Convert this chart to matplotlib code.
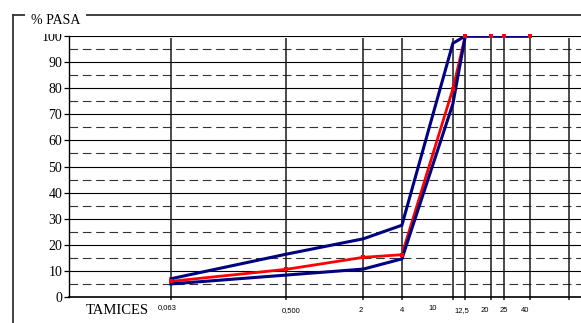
import matplotlib
matplotlib.use('Agg')
import matplotlib.pyplot as plt
from matplotlib.lines import Line2D

# sieve openings (mm) and % passing
tamices = [0.063, 0.5, 2, 4, 10, 12.5, 20, 25, 40]
tamiz_labels = ['0,063', '0,500', '2', '4', '10', '12,5', '20', '25', '40']
huso_inferior = [5, 8.4, 10.7, 14.6, 74, 100, 100, 100, 100]
huso_superior = [7, 16.4, 22.3, 27.5, 97.2, 100, 100, 100, 100]
muestra = [6, 10.6, 15.2, 16.2, 79.7, 100, 100, 100, 100]

grid_lines = [0.063, 0.5, 2, 4, 10, 12.5, 20, 25, 40, 80]
y_ticks = list(range(0, 101, 10))
y_dashed = list(range(5, 100, 10))

# label nudges in pixels (labels are not exactly under the lines)
label_dx = [-3.5, 5, -3, 0, -20, -3, -6.5, 0, -5]
label_dy = [2.5, 0, 0, 0, 2.5, 0, 0, 0, 0]

W, H = 581, 323
fig = plt.figure(figsize=(W / 100, H / 100), dpi=100)
fig.patch.set_facecolor('white')

ax = fig.add_axes([68.5 / W, (H - 297) / H, (W - 68.5) / W, (297 - 36) / H])
ax.set_xscale('log')
ax.set_xlim(0.01, 100)
ax.set_ylim(0, 100)

plt.rcParams['lines.scale_dashes'] = False

for y in y_ticks[1:]:
    ax.axhline(y, color='black', lw=0.8, zorder=1)
for y in y_dashed:
    ax.axhline(y, color='#333333', lw=0.8, linestyle=(0, (6.2, 3.4)), zorder=1)
ax.vlines(grid_lines, -1, 99.3, color='#1a1a1a', lw=1.1, zorder=2, clip_on=False)

# sample line under the envelope lines, markers on top
ax.plot(tamices, muestra, color='#ff0000', lw=2.0, zorder=3,
        solid_joinstyle='miter')
ax.plot(tamices, huso_inferior, color='#000080', lw=2.2, zorder=4,
        solid_joinstyle='miter')
ax.plot(tamices, huso_superior, color='#000080', lw=2.2, zorder=4,
        solid_joinstyle='miter')
ax.plot(tamices, muestra, linestyle='none', marker='s', ms=3.0,
        color='#ff0000', markeredgewidth=0, zorder=5, clip_on=False)

for spine in ['top', 'right']:
    ax.spines[spine].set_visible(False)
ax.spines['left'].set_linewidth(1.0)
ax.spines['bottom'].set_linewidth(1.2)
ax.spines['left'].set_zorder(6)
ax.spines['bottom'].set_zorder(6)

ax.set_yticks(y_ticks)
ax.set_yticklabels([str(v) for v in y_ticks], family='Liberation Serif',
                   fontsize=10)
ax.tick_params(axis='y', direction='out', length=3.5, width=0.9, pad=1)
ax.set_xticks([])
ax.xaxis.set_minor_locator(matplotlib.ticker.NullLocator())

# x labels placed by hand
for x, lab, dx, dy in zip(tamices, tamiz_labels, label_dx, label_dy):
    px, _ = ax.transData.transform((x, 0))
    fx = (px + dx) / W
    fig.text(fx, (H - 310.5 + dy) / H, lab, family='Liberation Sans',
             fontsize=5.5, ha='center', va='center')

fig.text(86 / W, (H - 310) / H, 'TAMICES', family='Liberation Serif',
         fontsize=10.5, ha='left', va='center')

# group box frame around the chart
fig.add_artist(Line2D([12.5 / W, 12.5 / W], [(H - 15) / H, -0.05],
                      transform=fig.transFigure, color='#333333', lw=1.3))
fig.add_artist(Line2D([12.5 / W, 1.05], [(H - 15) / H, (H - 15) / H],
                      transform=fig.transFigure, color='#333333', lw=1.3))
fig.text(55.5 / W, (H - 21) / H, '% PASA', family='Liberation Serif',
         fontsize=10, ha='center', va='center', zorder=10,
         bbox=dict(facecolor='white', edgecolor='none', pad=4.5))

fig.savefig('out.png', dpi=100, facecolor='white')
